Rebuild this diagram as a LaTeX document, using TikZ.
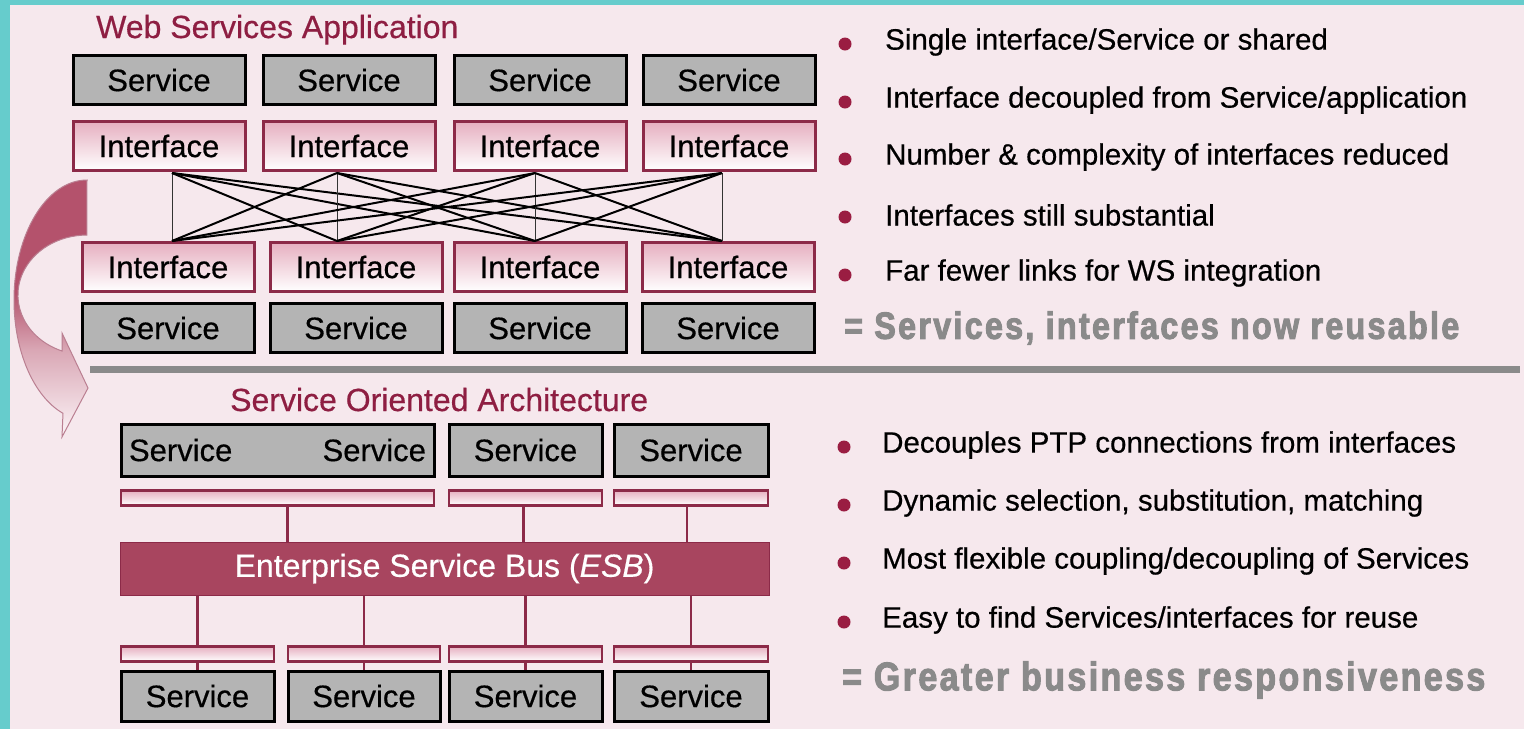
\documentclass[tikz,border=0pt]{standalone}
\usepackage{fontspec}
\setmainfont[FakeBold=0.5]{Liberation Sans}
\newfontfamily\heavyfont[FakeStretch=0.85,LetterSpace=6,FakeBold=2.5]{Liberation Sans}
\usetikzlibrary{calc}

\definecolor{framecyan}{HTML}{66CCCC}
\definecolor{pagepink}{HTML}{F6E8ED}
\definecolor{wine}{HTML}{8E1E42}
\definecolor{boxred}{HTML}{8C2A48}
\definecolor{ifacepink}{HTML}{E6AFC0}
\definecolor{busred}{HTML}{A8455F}
\definecolor{servgray}{HTML}{B4B4B4}
\definecolor{notegray}{HTML}{8A8A8A}
\definecolor{dotred}{HTML}{9A1D42}
\definecolor{arrowdark}{HTML}{B4526C}
\definecolor{arrowlight}{HTML}{F8ECF0}

\pgfdeclareverticalshading{arrowfade}{100bp}{color(0bp)=(arrowlight); color(27bp)=(arrowlight);
    color(42bp)=(arrowdark!45!arrowlight); color(53bp)=(arrowdark); color(100bp)=(arrowdark)}

\begin{document}
\begin{tikzpicture}[x=1pt, y=-1pt,
    service/.style={draw=black, line width=3pt, fill=servgray, inner sep=0pt,
        minimum width=172pt, minimum height=49pt, font=\fontsize{31}{32}\selectfont},
    iface/.style={draw=boxred, line width=3pt, top color=ifacepink, bottom color=white,
        inner sep=0pt, minimum width=172pt, minimum height=49pt, font=\fontsize{31}{32}\selectfont},
    bar/.style={draw=boxred, line width=2.5pt, top color=ifacepink, bottom color=white,
        inner sep=0pt, minimum height=15pt},
    heading/.style={text=wine, inner sep=0pt, font=\fontsize{32}{34}\selectfont},
    link/.style={line width=2pt},
    wire/.style={boxred, line width=2.5pt},
    dot/.style={circle, fill=dotred, inner sep=0pt, minimum size=13pt},
    note/.style={inner sep=0pt, anchor=west, font=\fontsize{29.5}{31}\selectfont},
    summary/.style={text=notegray, inner sep=0pt, anchor=west, font=\heavyfont\bfseries\fontsize{38}{40}\selectfont}]

    % page
    \useasboundingbox (0,0) rectangle (1524,729);
    \fill[framecyan] (0,0) rectangle (1524,729);
    \fill[pagepink] (10,5) rectangle (1524,729);

    % curved arrow
    \path[draw=boxred!60, line width=1pt, shading=arrowfade]
        (87,180) arc[start angle=270, end angle=109.2, x radius=73, y radius=120]
        -- (62,437) -- (88,388) -- (62,333) -- (62,351)
        arc[start angle=111.2, end angle=270, x radius=69, y radius=60] -- cycle;

    % web services application
    \node[heading, anchor=base west] (wsa) at (96,38) {Web Services Application};
    \foreach \x [count=\i] in {159,349,540,729} {
        \node[service] (sa\i) at (\x,80) {Service};
        \node[iface] (ia\i) at (\x,146) {Interface};
    }
    \foreach \x [count=\i] in {168,356,540,728} {
        \node[iface] (ib\i) at (\x,267) {Interface};
        \node[service] (sb\i) at (\x,328) {Service};
    }
    \foreach \x [count=\i] in {172,337,535,722} {
        \coordinate (lt\i) at (\x,173);
        \coordinate (lb\i) at (\x,241);
    }
    \foreach \i in {1,...,4} {
        \draw[line width=0.9pt, black!80] (lt\i) -- (lb\i);
        \foreach \j in {1,...,4} {
            \ifnum\i=\j\else \draw[link] (lt\i) -- (lb\j); \fi
        }
    }

    \draw[notegray, line width=7pt] (90,369) -- (1520,369);

    % service oriented architecture
    \node[heading, anchor=base west] (soa) at (230,411) {Service Oriented Architecture};
    \node[service, minimum width=313pt, minimum height=52pt, text width=297pt] (sc1) at (277.5,450) {Service\hfill Service};
    \node[service, minimum width=153pt, minimum height=52pt] (sc3) at (525.5,450) {Service};
    \node[service, minimum width=154pt, minimum height=52pt] (sc4) at (691,450) {Service};
    \node[bar, minimum width=313pt] (pa1) at (277.5,498) {};
    \node[bar, minimum width=153pt] (pa3) at (525.5,498) {};
    \node[bar, minimum width=154pt] (pa4) at (691,498) {};
    \node[fill=busred, draw=boxred, line width=1pt, minimum width=649pt, minimum height=53pt,
        text=white, font=\fontsize{32}{33}\selectfont] (esb) at (444.5,568.5)
        {Enterprise Service Bus (\textit{ESB})};
    \draw[wire] ([xshift=10pt]pa1.south) -- ([xshift=10pt]pa1.south |- esb.north);
    \draw[wire] ([xshift=-2pt]pa3.south) -- ([xshift=-2pt]pa3.south |- esb.north);
    \draw[wire] ([xshift=-4pt]pa4.south) -- ([xshift=-4pt]pa4.south |- esb.north);
    \foreach \x/\w [count=\i] in {197.5/153, 364/152, 525.5/153, 691/154} {
        \node[bar, minimum width=\w pt] (pb\i) at (\x,654) {};
        \node[service, minimum width=\w pt, minimum height=50pt] (sd\i) at (\x,696) {Service};
        \draw[wire] (pb\i.north |- esb.south) -- (pb\i.north);
        \draw[wire] (pb\i.south) -- (sd\i.north);
    }

    % notes
    \foreach \y in {44,102,159,217,275} \node[dot] at (845,\y) {};
    \foreach \y in {447,505,563,622} \node[dot] at (844,\y) {};
    \node[note] (n1) at (885,42) {Single interface/Service or shared};
    \node[note] (n2) at (885,100) {Interface decoupled from Service/application};
    \node[note] (n3) at (885,157) {Number \& complexity of interfaces reduced};
    \node[note] (n4) at (885,215) {Interfaces still substantial};
    \node[note] (n5) at (885,273) {Far fewer links for WS integration};
    \node[summary] (s1) at (844,328) {= Services, interfaces now reusable};
    \node[note] (n6) at (882,445) {Decouples PTP connections from interfaces};
    \node[note] (n7) at (882,503) {Dynamic selection, substitution, matching};
    \node[note] (n8) at (882,561) {Most flexible coupling/decoupling of Services};
    \node[note] (n9) at (882,620) {Easy to find Services/interfaces for reuse};
    \node[summary, font=\heavyfont\bfseries\fontsize{40}{42}\selectfont] (s2) at (842,680) {= Greater business responsiveness};
\end{tikzpicture}
\end{document}
